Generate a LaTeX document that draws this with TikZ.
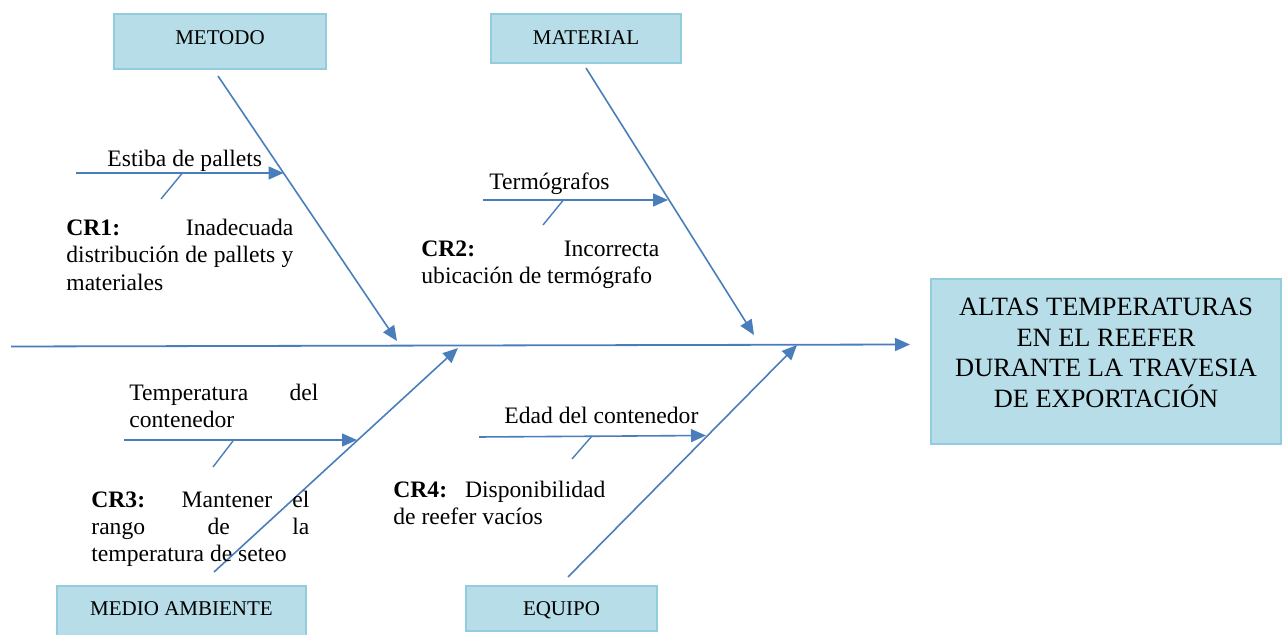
\documentclass[tikz,border=0pt]{standalone}
\usepackage{fontspec}
\setmainfont{Liberation Serif}
\usetikzlibrary{arrows.meta}
\definecolor{linec}{HTML}{4A7EBB}
\definecolor{boxfill}{HTML}{B7DDE8}
\definecolor{boxline}{HTML}{93CDDD}
\tikzset{
  bone/.style={draw=linec, line width=0.8pt, -{Triangle[length=7.5pt,width=6.5pt]}},
  spinearrow/.style={draw=linec, line width=0.9pt, -{Triangle[length=7.5pt,width=6.5pt]}},
  tick/.style={draw=linec, line width=0.7pt},
  catbox/.style={fill=boxfill, draw=boxline, line width=0.8pt, inner xsep=0pt, inner ysep=0pt, anchor=north, font=\fontsize{10.5}{12}\selectfont},
  txt/.style={inner sep=0pt, anchor=north west, align=left, font=\fontsize{11.8}{13.6}\selectfont},
}
\newcommand{\jline}[2]{\makebox[#1][s]{#2}}
\begin{document}
\begin{tikzpicture}[x=0.5pt,y=-0.5pt]
\useasboundingbox (0,0) rectangle (1286,635);
% category boxes
\node[catbox, minimum width=106pt, text height=15.3pt, text depth=12.2pt] (metodo) at (220,13) {METODO};
\node[catbox, minimum width=95pt, text height=15.3pt, text depth=9.2pt] (material) at (586,13) {MATERIAL};
\node[catbox, minimum width=124.5pt, text height=15.1pt, text depth=15pt] (medio) at (181.5,585) {MEDIO AMBIENTE};
\node[catbox, minimum width=95.5pt, text height=15.1pt, text depth=7.4pt] (equipo) at (561.5,585) {EQUIPO};
% effect box
\node[fill=boxfill, draw=boxline, line width=0.8pt, minimum width=175pt, minimum height=82.5pt, inner sep=0pt] (effect) at (1106,361.5) {};
\node[inner sep=0pt, anchor=north, align=center, font=\fontsize{13.2}{15.2}\selectfont] (efftext) at (1106,298) {ALTAS TEMPERATURAS\\EN EL REEFER\\DURANTE LA TRAVESIA\\DE EXPORTACI\'ON};
% spine
\coordinate (s0) at (11,346.5);
\coordinate (s1) at (910,344.5);
\draw[spinearrow] (s0) -- (s1);
% bones
\coordinate (m1) at (218,76);   \coordinate (m2) at (397,341);
\coordinate (t1) at (586,68);   \coordinate (t2) at (754,335);
\coordinate (a1) at (214,572);  \coordinate (a2) at (458,348);
\coordinate (q1) at (568,577);  \coordinate (q2) at (797,345);
\draw[bone] (m1) -- (m2);
\draw[bone] (t1) -- (t2);
\draw[bone] (a1) -- (a2);
\draw[bone] (q1) -- (q2);
% sub-bones
\coordinate (e1) at (76,173);   \coordinate (e2) at (283.5,173);
\coordinate (g1) at (483,200);  \coordinate (g2) at (668,200);
\coordinate (c1) at (124,440);  \coordinate (c2) at (357,440);
\coordinate (d1) at (479,437);  \coordinate (d2) at (706,435.5);
\draw[bone] (e1) -- (e2);
\draw[bone] (g1) -- (g2);
\draw[bone] (c1) -- (c2);
\draw[bone] (d1) -- (d2);
% ticks
\coordinate (et1) at (182,173.5); \coordinate (et2) at (161,199);
\coordinate (gt1) at (563,200.5); \coordinate (gt2) at (543,225);
\coordinate (ct1) at (233,441);   \coordinate (ct2) at (213,467);
\coordinate (dt1) at (592,436);   \coordinate (dt2) at (572,459);
\draw[tick] (et1) -- (et2);
\draw[tick] (gt1) -- (gt2);
\draw[tick] (ct1) -- (ct2);
\draw[tick] (dt1) -- (dt2);
% labels
\node[txt] (lestiba) at (107,150) {Estiba de pallets};
\node[txt] (lcr1) at (66,219) {\jline{113.5pt}{\textbf{CR1:} Inadecuada}\\\jline{113.5pt}{distribución de pallets y}\\materiales};
\node[txt] (ltermo) at (489,172) {Termógrafos};
\node[txt] (lcr2) at (421,240.5) {\jline{119pt}{\textbf{CR2:} Incorrecta}\\ubicación de termógrafo};
\node[txt] (ltemp) at (129,384) {\jline{94.5pt}{Temperatura del}\\contenedor};
\node[txt] (lcr3) at (91,490.5) {\jline{109pt}{\textbf{CR3:} Mantener el}\\\jline{109pt}{rango de la}\\temperatura de seteo};
\node[txt] (ledad) at (504,407) {Edad del contenedor};
\node[txt] (lcr4) at (393,480.5) {\jline{106pt}{\textbf{CR4:} Disponibilidad}\\de reefer vacíos};
\end{tikzpicture}
\end{document}
